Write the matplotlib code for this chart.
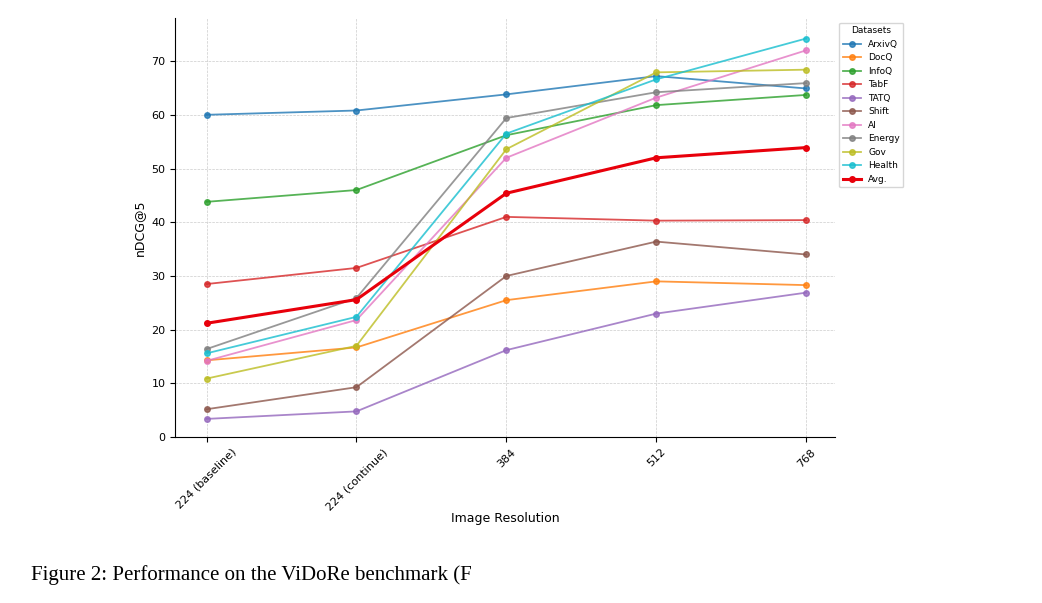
import numpy as np
import matplotlib
matplotlib.use('Agg')
from matplotlib import pyplot as plt

resolutions = ['224 (baseline)', '224 (continue)', '384', '512', '768']
arxivq = [60.0, 60.8, 63.8, 67.2, 64.9]
docq = [14.3, 16.7, 25.5, 29.0, 28.3]
infoq = [43.8, 46.0, 56.2, 61.8, 63.7]
tabf = [28.5, 31.5, 41.0, 40.3, 40.4]
tatq = [3.4, 4.8, 16.2, 23.0, 26.9]
shift = [5.2, 9.3, 30.0, 36.4, 34.0]
ai = [14.2, 21.8, 52.0, 63.2, 72.0]
energy = [16.4, 25.9, 59.4, 64.2, 65.9]
gov = [10.9, 17.0, 53.6, 67.9, 68.4]
health = [15.6, 22.4, 56.5, 66.6, 74.2]
avg = [21.2, 25.6, 45.4, 52.0, 53.9]

series = [('ArxivQ', arxivq), ('DocQ', docq), ('InfoQ', infoq), ('TabF', tabf),
          ('TATQ', tatq), ('Shift', shift), ('AI', ai), ('Energy', energy),
          ('Gov', gov), ('Health', health)]

fig = plt.figure(figsize=(10.42, 6.03), dpi=100, facecolor='white')
ax = fig.add_axes([0.168, 0.275, 0.633, 0.695])
x = np.arange(len(resolutions))
colors = plt.rcParams['axes.prop_cycle'].by_key()['color']
for (name, vals), c in zip(series, colors):
    ax.plot(x, vals, marker='o', markersize=4, linewidth=1.3, color=c, alpha=0.8, label=name)
ax.plot(x, avg, marker='o', markersize=4, linewidth=2.2, color='#e8000b', label='Avg.')

ax.set_xticks(x)
ax.set_xticklabels(resolutions, rotation=45, fontsize=8)
ax.set_xlim(-0.21, 4.19)
ax.set_ylim(0, 78)
ax.set_yticks(range(0, 80, 10))
ax.tick_params(labelsize=8)
ax.grid(True, linestyle='--', linewidth=0.5, color='#cccccc')
ax.spines['top'].set_visible(False)
ax.spines['right'].set_visible(False)
ax.set_xlabel('Image Resolution', fontsize=9, labelpad=0)
ax.set_ylabel('nDCG@5', fontsize=9)

leg = ax.legend(title='Datasets', loc='upper left', bbox_to_anchor=(1.0, 1.0),
                fontsize=6.5, title_fontsize=6.5, handlelength=2)

fig.text(0.03, 0.03, 'Figure 2: Performance on the ViDoRe benchmark (F',
         fontsize=15, family='Liberation Serif', ha='left', va='bottom')

fig.savefig('out.png', dpi=100, facecolor='white')
